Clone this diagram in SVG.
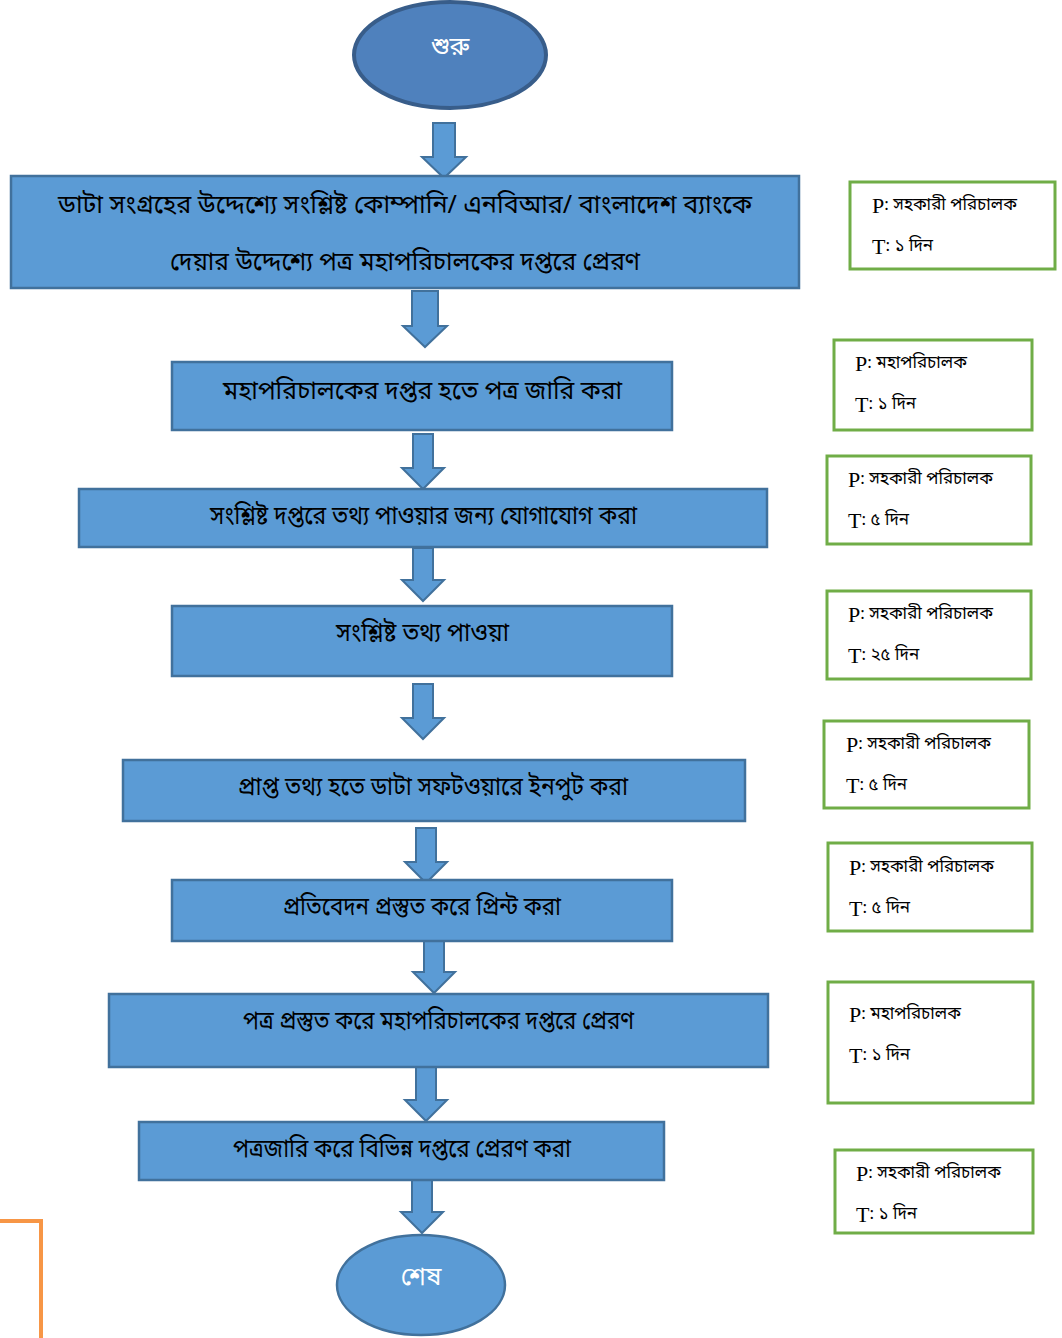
<svg xmlns="http://www.w3.org/2000/svg" width="1062" height="1338" viewBox="0 0 1062 1338">
<defs>
<style>
.box{fill:#5B9BD5;stroke:#41719C;stroke-width:2.5}
.arr{fill:#5B9BD5;stroke:#41719C;stroke-width:2}
.side{fill:#FFFFFF;stroke:#70AD47;stroke-width:3}
.bt{font-family:"Noto Sans Bengali","Noto Serif Bengali","Lohit Bengali","Vrinda","FreeSans","Noto Sans",sans-serif;font-size:25px;fill:#000;text-anchor:middle;dominant-baseline:central}
.st{font-family:"Liberation Serif",serif;font-size:22px;fill:#000;dominant-baseline:central}
.sb{font-family:"Noto Sans Bengali","Noto Serif Bengali","Lohit Bengali","Vrinda","FreeSans","Noto Sans",sans-serif;font-size:17px}
.wt{font-family:"Noto Sans Bengali","Noto Serif Bengali","Lohit Bengali","Vrinda","FreeSans","Noto Sans",sans-serif;font-size:25px;fill:#fff;text-anchor:middle;dominant-baseline:central}
</style>
</defs>
<rect width="1062" height="1338" fill="#fff"/>
<g id="connectors">
<path class="arr" d="M433,123 H455 V157 H466 L444,178 L422,157 H433 Z"/>
<path class="arr" d="M412,291 H438 V326 H447 L425,347 L403,326 H412 Z"/>
<path class="arr" d="M413,434 H433 V468 H444 L423,489 L402,468 H413 Z"/>
<path class="arr" d="M413,548 H433 V580 H444 L423,601 L402,580 H413 Z"/>
<path class="arr" d="M413,684 H433 V718 H444 L423,739 L402,718 H413 Z"/>
<path class="arr" d="M416,828 H436 V862 H447 L426,883 L405,862 H416 Z"/>
<path class="arr" d="M424,941 H444 V972 H455 L434,993 L413,972 H424 Z"/>
<path class="arr" d="M416,1067 H436 V1100 H447 L426,1121 L405,1100 H416 Z"/>
<path class="arr" d="M412,1180 H432 V1212 H443 L422,1233 L401,1212 H412 Z"/>
</g>
<g id="start">
<ellipse cx="450" cy="55" rx="96" ry="53" fill="#4F81BD" stroke="#385D8A" stroke-width="4"/>
<text class="wt" x="450" y="48">শুরু</text>
</g>
<g id="step1">
<rect class="box" x="11" y="176" width="788" height="112"/>
<text class="bt" x="405" y="206" textLength="694" lengthAdjust="spacingAndGlyphs">ডাটা সংগ্রহের উদ্দেশ্যে সংশ্লিষ্ট কোম্পানি/ এনবিআর/ বাংলাদেশ ব্যাংকে</text>
<text class="bt" x="405" y="263" textLength="470" lengthAdjust="spacingAndGlyphs">দেয়ার উদ্দেশ্যে পত্র মহাপরিচালকের দপ্তরে প্রেরণ</text>
</g>
<g id="step2">
<rect class="box" x="172" y="362" width="500" height="68"/>
<text class="bt" x="422.5" y="392" textLength="399" lengthAdjust="spacingAndGlyphs">মহাপরিচালকের দপ্তর হতে পত্র জারি করা</text>
</g>
<g id="step3">
<rect class="box" x="79" y="489" width="688" height="58"/>
<text class="bt" x="423.5" y="517" textLength="427" lengthAdjust="spacingAndGlyphs">সংশ্লিষ্ট দপ্তরে তথ্য পাওয়ার জন্য যোগাযোগ করা</text>
</g>
<g id="step4">
<rect class="box" x="172" y="606" width="500" height="70"/>
<text class="bt" x="422.5" y="634" textLength="173" lengthAdjust="spacingAndGlyphs">সংশ্লিষ্ট তথ্য পাওয়া</text>
</g>
<g id="step5">
<rect class="box" x="123" y="760" width="622" height="61"/>
<text class="bt" x="433" y="788" textLength="390" lengthAdjust="spacingAndGlyphs">প্রাপ্ত তথ্য হতে ডাটা সফটওয়ারে ইনপুট করা</text>
</g>
<g id="step6">
<rect class="box" x="172" y="880" width="500" height="61"/>
<text class="bt" x="422" y="908" textLength="278" lengthAdjust="spacingAndGlyphs">প্রতিবেদন প্রস্তুত করে প্রিন্ট করা</text>
</g>
<g id="step7">
<rect class="box" x="109" y="994" width="659" height="73"/>
<text class="bt" x="438.5" y="1022" textLength="391" lengthAdjust="spacingAndGlyphs">পত্র প্রস্তুত করে মহাপরিচালকের দপ্তরে প্রেরণ</text>
</g>
<g id="step8">
<rect class="box" x="139" y="1122" width="525" height="58"/>
<text class="bt" x="402" y="1150" textLength="338" lengthAdjust="spacingAndGlyphs">পত্রজারি করে বিভিন্ন দপ্তরে প্রেরণ করা</text>
</g>
<g id="end">
<ellipse cx="421" cy="1285" rx="84" ry="50" fill="#5B9BD5" stroke="#41719C" stroke-width="2.5"/>
<text class="wt" x="421" y="1278">শেষ</text>
</g>
<g id="info1">
<rect class="side" x="850" y="182" width="205" height="87"/>
<text class="st" x="872" y="205">P<tspan class="sb">: সহকারী পরিচালক</tspan></text>
<text class="st" x="872" y="246">T<tspan class="sb">: ১ দিন</tspan></text>
</g>
<g id="info2">
<rect class="side" x="834" y="340" width="198" height="90"/>
<text class="st" x="855" y="363">P<tspan class="sb">: মহাপরিচালক</tspan></text>
<text class="st" x="855" y="404">T<tspan class="sb">: ১ দিন</tspan></text>
</g>
<g id="info3">
<rect class="side" x="827" y="456" width="204" height="88"/>
<text class="st" x="848" y="479">P<tspan class="sb">: সহকারী পরিচালক</tspan></text>
<text class="st" x="848" y="520">T<tspan class="sb">: ৫ দিন</tspan></text>
</g>
<g id="info4">
<rect class="side" x="827" y="591" width="204" height="88"/>
<text class="st" x="848" y="614">P<tspan class="sb">: সহকারী পরিচালক</tspan></text>
<text class="st" x="848" y="655">T<tspan class="sb">: ২৫ দিন</tspan></text>
</g>
<g id="info5">
<rect class="side" x="824" y="721" width="205" height="87"/>
<text class="st" x="846" y="744">P<tspan class="sb">: সহকারী পরিচালক</tspan></text>
<text class="st" x="846" y="785">T<tspan class="sb">: ৫ দিন</tspan></text>
</g>
<g id="info6">
<rect class="side" x="828" y="843" width="204" height="88"/>
<text class="st" x="849" y="867">P<tspan class="sb">: সহকারী পরিচালক</tspan></text>
<text class="st" x="849" y="908">T<tspan class="sb">: ৫ দিন</tspan></text>
</g>
<g id="info7">
<rect class="side" x="828" y="982" width="205" height="121"/>
<text class="st" x="849" y="1014">P<tspan class="sb">: মহাপরিচালক</tspan></text>
<text class="st" x="849" y="1055">T<tspan class="sb">: ১ দিন</tspan></text>
</g>
<g id="info8">
<rect class="side" x="835" y="1150" width="198" height="83"/>
<text class="st" x="856" y="1173">P<tspan class="sb">: সহকারী পরিচালক</tspan></text>
<text class="st" x="856" y="1214">T<tspan class="sb">: ১ দিন</tspan></text>
</g>
<path d="M0,1221 H41 V1338" fill="none" stroke="#F79646" stroke-width="4"/>
</svg>
